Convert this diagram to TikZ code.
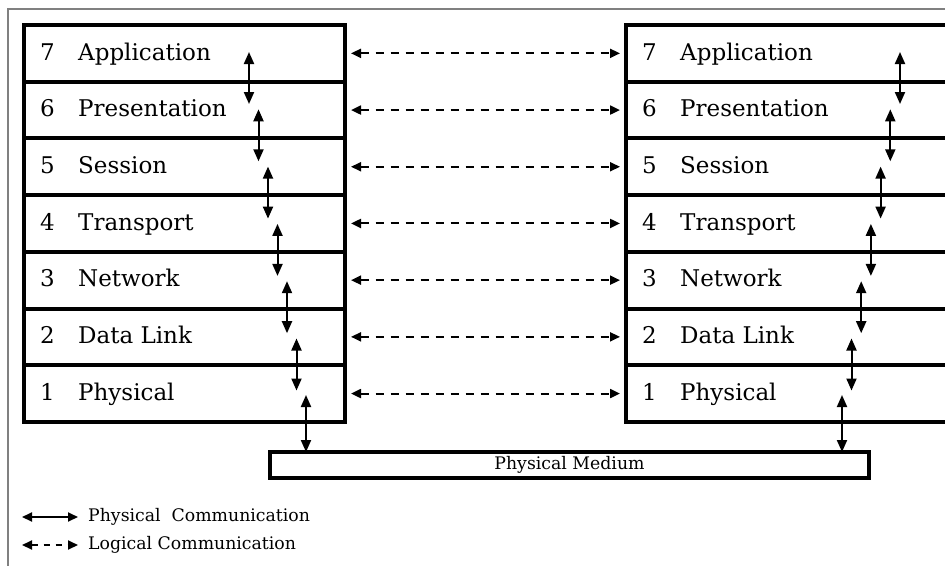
\documentclass[tikz,border=0pt]{standalone}
\usepackage{fontspec}
\setmainfont{DejaVu Serif}
\usetikzlibrary{arrows.meta}
\begin{document}
\begin{tikzpicture}[x=1pt,y=-1pt,
  layer/.style={draw,line width=4pt,minimum width=#1,minimum height=56.7pt,inner sep=0pt,anchor=north west},
  num/.style={anchor=base west,font=\fontsize{23}{27}\selectfont,inner sep=0pt},
  lbl/.style={anchor=base west,font=\fontsize{23}{27}\selectfont,inner sep=0pt},
  phys/.style={line width=2pt,{Triangle[length=12pt,width=10pt]}-{Triangle[length=12pt,width=10pt]}},
  logic/.style={line width=2pt,dash pattern=on 8pt off 7pt,{Triangle[length=10pt,width=9pt]}-{Triangle[length=10pt,width=9pt]}},
  small/.style={font=\fontsize{17.3}{20}\selectfont,inner sep=0pt}]
\useasboundingbox (0,0) rectangle (945,565);
\fill[white] (0,0) rectangle (945,565);
\draw[gray,line width=1.3pt] (8,570) -- (8,9) -- (950,9);
\foreach \n/\t [count=\j from 0] in {7/Application,6/Presentation,5/Session,4/Transport,3/Network,2/Data Link,1/Physical}{
  \pgfmathsetmacro{\top}{23+56.7*\j}
  \node[layer=321pt] (L\n) at (22,\top) {};
  \node[layer=340pt] (R\n) at (624,\top) {};
  \node[num] (Ln\n) at (40,\top+37) {\n};
  \node[lbl] (Lt\n) at (78,\top+37) {\t};
  \node[num] (Rn\n) at (642,\top+37) {\n};
  \node[lbl] (Rt\n) at (680,\top+37) {\t};
  \draw[logic] ([xshift=4pt]L\n.east) -- ([xshift=-4pt]R\n.west);
}
\node[draw,line width=4pt,minimum width=599pt,minimum height=26pt,inner sep=0pt] (med) at (569.5,465) {};
\node[small] (medt) at (med.center) {Physical Medium};
\foreach \j in {0,...,5}{
  \pgfmathsetmacro{\xl}{249+9.5*\j}
  \pgfmathsetmacro{\xr}{900-9.7*\j}
  \pgfmathsetmacro{\ya}{52+57.3*\j}
  \pgfmathsetmacro{\yb}{104+57.3*\j}
  \coordinate (la\j) at (\xl,\ya);
  \coordinate (lb\j) at (\xl,\yb);
  \coordinate (ra\j) at (\xr,\ya);
  \coordinate (rb\j) at (\xr,\yb);
  \draw[phys] (la\j) -- (lb\j);
  \draw[phys] (ra\j) -- (rb\j);
}
\coordinate (lp) at (306,395);
\coordinate (rp) at (842,395);
\draw[phys] (lp) -- ([yshift=-2pt]lp |- med.north);
\draw[phys] (rp) -- ([yshift=-2pt]rp |- med.north);
% legend
\coordinate (g1a) at (22,517); \coordinate (g1b) at (78,517);
\coordinate (g2a) at (22,545); \coordinate (g2b) at (78,545);
\draw[line width=2pt,{Triangle[length=10pt,width=9pt]}-{Triangle[length=10pt,width=9pt]}] (g1a) -- (g1b);
\draw[line width=2pt,dash pattern=on 6pt off 6pt,{Triangle[length=10pt,width=9pt]}-{Triangle[length=10pt,width=9pt]}] (g2a) -- (g2b);
\node[small,anchor=west] (leg1) at (88,517) {Physical\ \ Communication};
\node[small,anchor=west] (leg2) at (88,545) {Logical Communication};
\end{tikzpicture}
\end{document}
